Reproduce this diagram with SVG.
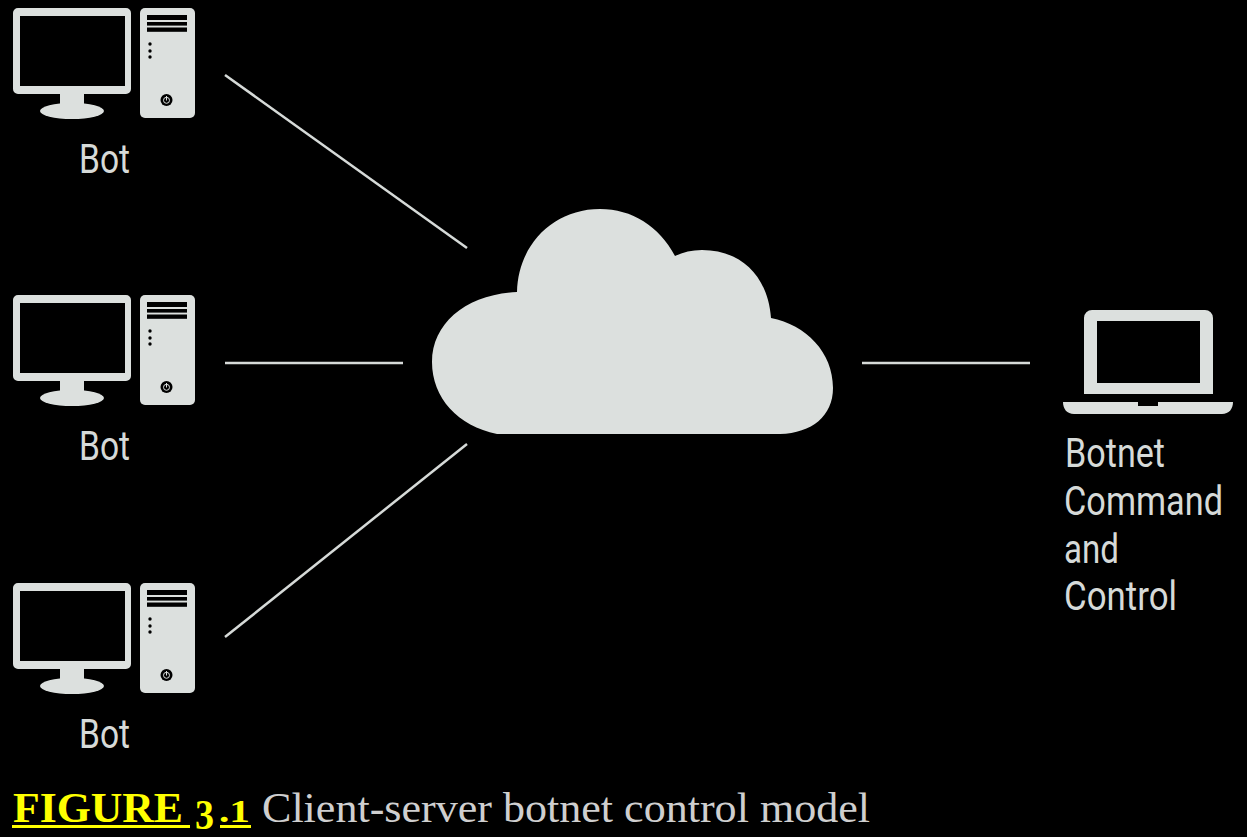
<svg xmlns="http://www.w3.org/2000/svg" width="1247" height="837" viewBox="0 0 1247 837">
<style>
.f{fill:#dce0de}
.k{fill:#000}
.l{font-family:"Roboto","Liberation Sans",sans-serif;font-weight:400;font-size:40px;fill:#d6dad8}
.c{font-family:"Liberation Serif",serif;font-size:42px}
.y{fill:#ffff00;font-weight:700}
.conn{stroke:#d6dad8;stroke-width:2.5;fill:none}
</style>
<defs>
<g id="pc">
<path class="f" fill-rule="evenodd" d="M18 8H126a5 5 0 0 1 5 5V89a5 5 0 0 1-5 5H18a5 5 0 0 1-5-5V13a5 5 0 0 1 5-5ZM20 16V86H125V16Z"/>
<rect class="f" x="60" y="93" width="24" height="13"/>
<ellipse class="f" cx="72" cy="111" rx="32" ry="8"/>
<rect class="f" x="140" y="8" width="55" height="110" rx="5"/>
<rect class="k" x="147" y="15" width="40" height="5"/>
<rect class="k" x="147" y="22" width="40" height="3.6"/>
<rect class="k" x="147" y="27.5" width="40" height="4.3"/>
<circle class="k" cx="150" cy="44" r="1.7"/>
<circle class="k" cx="150" cy="51" r="1.7"/>
<circle class="k" cx="150" cy="57" r="1.7"/>
<circle class="k" cx="166.500" cy="100" r="6"/>
<circle cx="166.500" cy="100.300" r="3" fill="none" stroke="#dce0de" stroke-width="1"/>
<rect class="f" x="166" y="96" width="1" height="4.500"/>
</g>
</defs>
<rect width="1247" height="837" fill="#000"/>
<g id="connectors">
<line class="conn" x1="225" y1="75" x2="467" y2="248"/>
<line class="conn" x1="225" y1="363" x2="403" y2="363"/>
<line class="conn" x1="225" y1="637" x2="467" y2="444"/>
<line class="conn" x1="862" y1="363" x2="1030" y2="363"/>
</g>
<g id="bot-1"><use href="#pc"/><text class="l" x="79" y="173" textLength="51" lengthAdjust="spacingAndGlyphs">Bot</text></g>
<g id="bot-2"><use href="#pc" y="287"/><text class="l" x="79" y="460" textLength="51" lengthAdjust="spacingAndGlyphs">Bot</text></g>
<g id="bot-3"><use href="#pc" y="575"/><text class="l" x="79" y="748" textLength="51" lengthAdjust="spacingAndGlyphs">Bot</text></g>
<g id="cloud">
<path class="f" d="M497 434H780C812 433 833 416 833 388C833 352 806 325 771 318C768 277 742 250 702 250C692 250 683 252 675 256C659 226 632 209 600 209C553 209 518 245 517 292C468 294 432 322 432 362C432 398 458 426 497 434Z"/>
</g>
<g id="c2">
<path class="f" fill-rule="evenodd" d="M1092 310H1205a8 8 0 0 1 8 8V394H1084V318a8 8 0 0 1 8-8ZM1097 321V383H1200V321Z"/>
<path class="f" d="M1063 402H1138V406H1158V402H1233C1233 409 1229 414 1222 414H1074C1067 414 1063 409 1063 402Z"/>
<text class="l" x="1065" y="467" textLength="100" lengthAdjust="spacingAndGlyphs">Botnet</text>
<text class="l" x="1064" y="515" textLength="159" lengthAdjust="spacingAndGlyphs">Command</text>
<text class="l" x="1064" y="563" textLength="55" lengthAdjust="spacingAndGlyphs">and</text>
<text class="l" x="1064" y="610" textLength="113" lengthAdjust="spacingAndGlyphs">Control</text>
</g>
<g id="caption">
<text class="c y" x="13" y="822" textLength="170" lengthAdjust="spacingAndGlyphs">FIGURE</text>
<text class="c y" x="195" y="829" textLength="19" lengthAdjust="spacingAndGlyphs">3</text>
<text class="c y" x="219" y="822" style="font-size:32px" textLength="31" lengthAdjust="spacingAndGlyphs">.1</text>
<rect x="12" y="825" width="178" height="3" fill="#ffff00"/>
<rect x="220" y="825" width="31" height="3" fill="#ffff00"/>
<text class="c" x="262" y="822" fill="#cfcfcf" textLength="608" lengthAdjust="spacingAndGlyphs">Client-server botnet control model</text>
</g>
</svg>
